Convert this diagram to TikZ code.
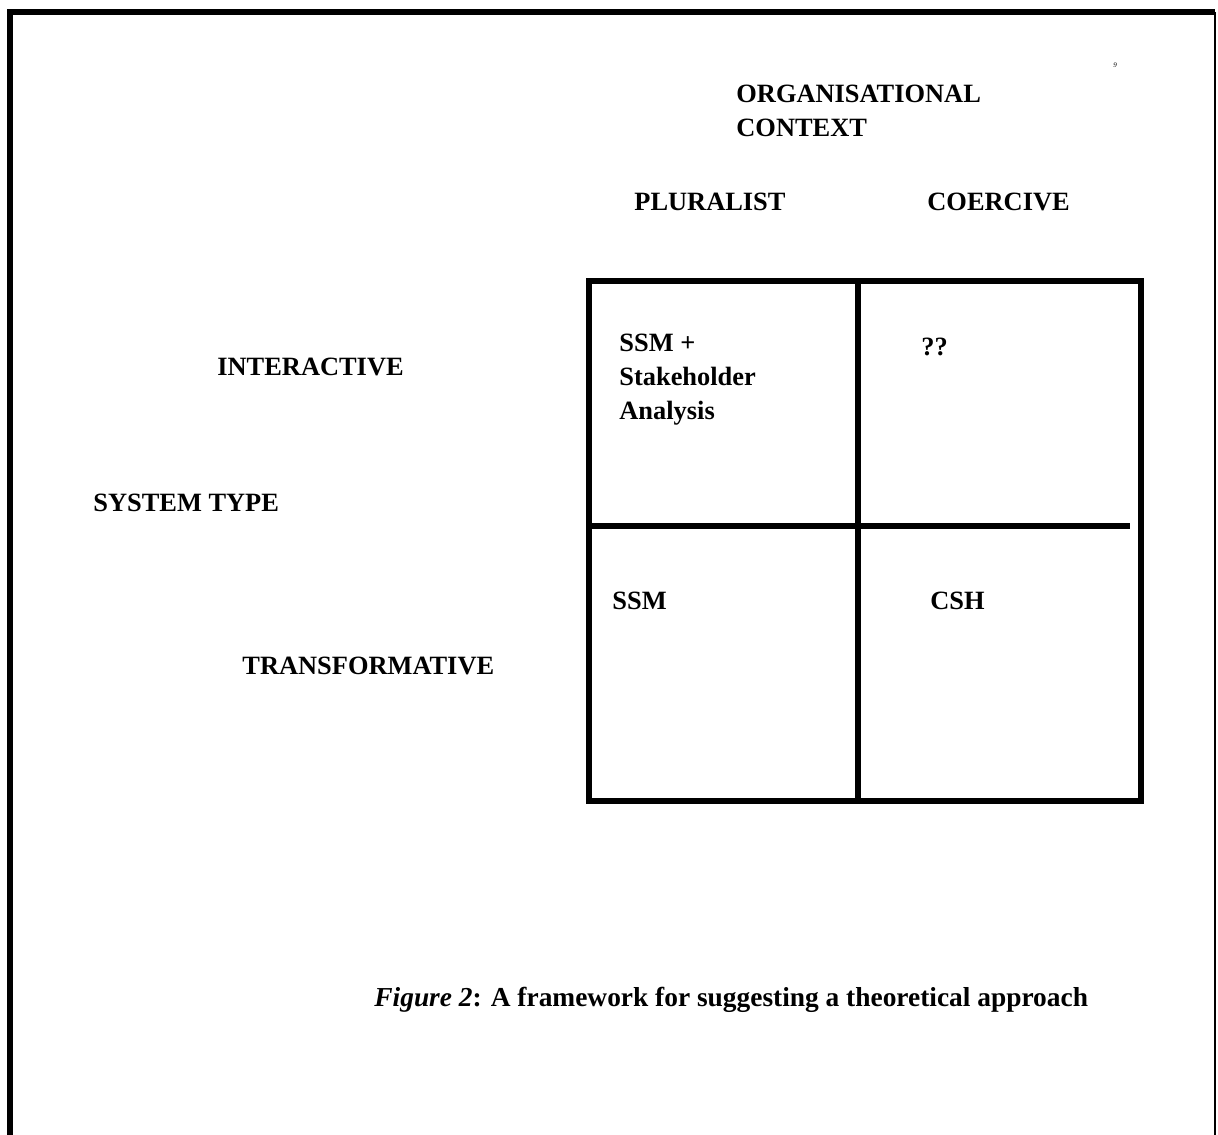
\documentclass[tikz,border=0pt]{standalone}
\usepackage{fontspec}
\setmainfont{Liberation Serif}
\begin{document}
\begin{tikzpicture}[x=0.5pt,y=-0.5pt,
  lbl/.style={anchor=base west,inner sep=0pt,font=\fontsize{13.2pt}{17pt}\selectfont\bfseries},
  grid/.style={line width=3pt,line cap=rect},
  frame/.style={line width=2.6pt}]
\useasboundingbox (0,0) rectangle (1218,1134);
% outer frame (bottom edge cut off)
\coordinate (fbl) at (10,1140);
\coordinate (ftl) at (10,12);
\coordinate (ftr) at (1215,12);
\coordinate (fbr) at (1215,1140);
\draw[frame] (fbl) -- (ftl) -- (ftr);
\draw[line width=1.1pt] (ftr) -- (fbr);
% grid
\coordinate (gtl) at (589,281);
\coordinate (gbr) at (1141,801);
\coordinate (vt) at (858,281);
\coordinate (vb) at (858,801);
\coordinate (hl) at (589,526);
\coordinate (hr) at (1127,526);
\draw[grid] (gtl) rectangle (gbr);
\draw[grid] (vt) -- (vb);
\draw[grid] (hl) -- (hr);
% labels
\node[lbl] (org) at (736,103) {ORGANISATIONAL};
\node[lbl] (ctx) at (736,137) {CONTEXT};
\node[lbl] (plu) at (634,211) {PLURALIST};
\node[lbl] (coe) at (927,211) {COERCIVE};
\node[lbl] (int) at (217,375) {INTERACTIVE};
\node[lbl] (sys) at (93,511) {SYSTEM TYPE};
\node[lbl] (tra) at (242,674) {TRANSFORMATIVE};
\node[lbl,align=left,anchor=north west] (ssh) at (619,334) {SSM +\\Stakeholder\\Analysis};
\node[lbl] (qq) at (921,355) {??};
\node[lbl] (ssm) at (612,609) {SSM};
\node[lbl] (csh) at (930,609) {CSH};
\node[lbl,font=\fontsize{13.7pt}{17pt}\selectfont\bfseries] (cap) at (374,1006) {\textit{Figure 2}: A framework for suggesting a theoretical approach};
\node[anchor=base west,inner sep=0pt,font=\fontsize{3.5pt}{4pt}\selectfont\itshape] (pg) at (1113,68) {9};
\end{tikzpicture}
\end{document}
